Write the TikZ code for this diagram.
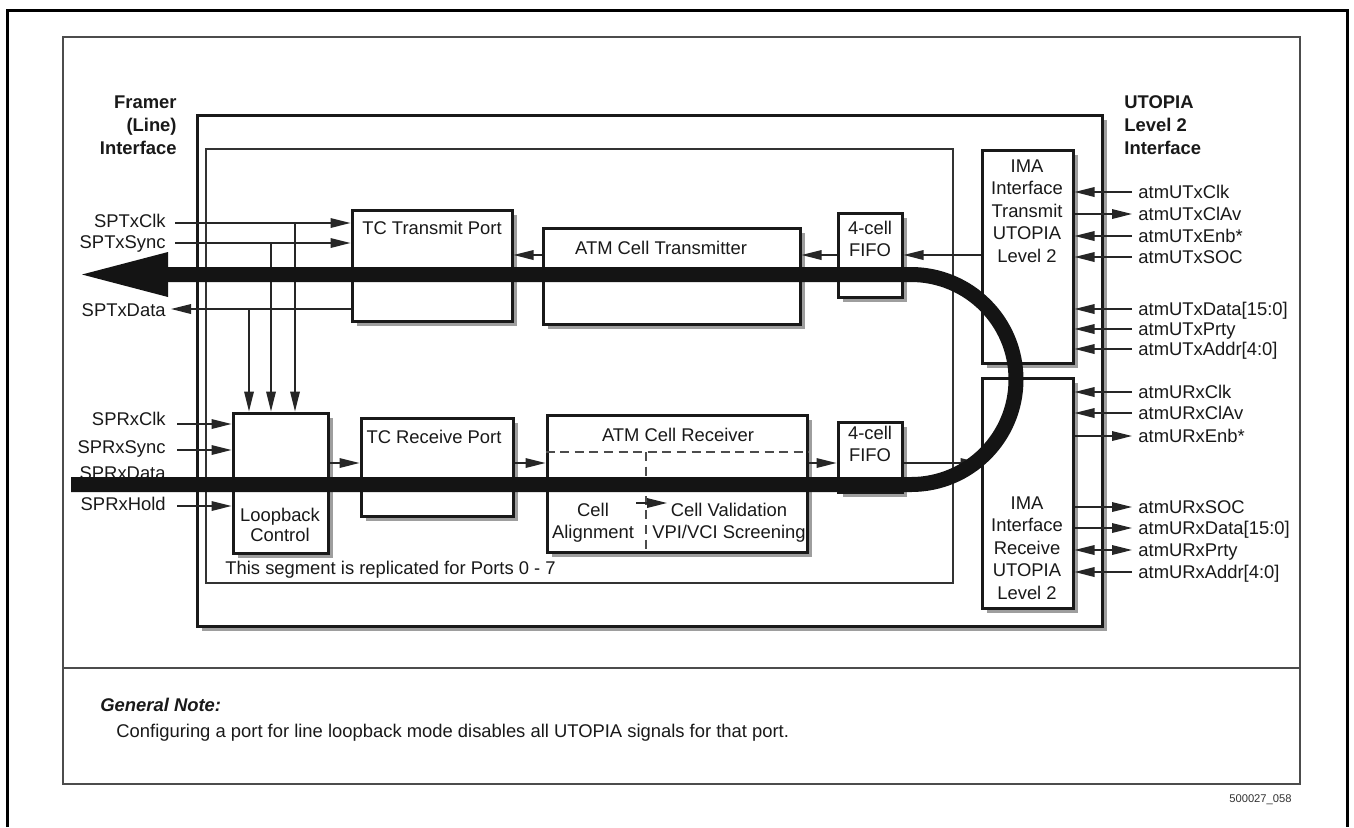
\documentclass[tikz,border=0pt]{standalone}
\usepackage{fontspec}
\setmainfont{Liberation Sans}
\usetikzlibrary{arrows.meta,shadows,fit}

\begin{document}
\begin{tikzpicture}[x=0.5pt,y=-0.5pt,
  font=\fontsize{9.2}{11.2}\selectfont,
  every node/.style={inner sep=0pt},
  box/.style={draw=black!90, line width=1.5pt, fill=white, inner sep=0pt, outer sep=0.75pt,
    drop shadow={shadow xshift=2.6pt, shadow yshift=-2.6pt, fill=black!38, opacity=1}},
  txt/.style={text=black!90, text height=6.6pt, text depth=0pt},
  mtxt/.style={text=black!90, align=center},
  lbl/.style={txt, anchor=east},
  rlbl/.style={txt, anchor=west},
  head/.style={font=\fontsize{9.2}{11.5}\selectfont\bfseries, text=black!90},
  tip/.style={Triangle[length=10pt,width=4.8pt]},
  sig/.style={line width=0.7pt, draw=black!85, -{Triangle[length=10pt,width=4.8pt]}},
  sigb/.style={line width=0.7pt, draw=black!85, {Triangle[length=10pt,width=4.8pt]}-{Triangle[length=10pt,width=4.8pt]}},
  divline/.style={line width=0.7pt, draw=black!70, dash pattern=on 4.5pt off 2.8pt},
  bar/.style={line width=7.5pt, draw=black!92},
]
% page and frames
\fill[white] (0,0) rectangle (1354,827);
\useasboundingbox (0,0) rectangle (1354,827);
\draw[line width=1.5pt] (7,827) -- (7,10) -- (1347,10) -- (1347,827);
\draw[line width=1pt, draw=black!70] (63,37) rectangle (1300,784);
\draw[line width=1pt, draw=black!70] (63,668) -- (1300,668);

% device outline and replicated port segment
\node[box, fit={(197,115) (1102,626)}] (chip) {};
\node[draw=black!80, line width=0.6pt, inner sep=0pt, fit={(206,149) (953,583)}] (seg) {};
\node[txt, anchor=west] (segnote) at (225,568) {This segment is replicated for Ports 0 - 7};

% interface headings
\node[head, align=right, anchor=east] (framer) at (177,125) {Framer\\(Line)\\Interface};
\node[head, align=left, anchor=west] (utopia) at (1124,125) {UTOPIA\\Level 2\\Interface};

% transmit path blocks
\node[box, fit={(352,210) (512,321)}] (tctx) {};
\node[txt] (tctx-t) at (432,228) {TC Transmit Port};
\node[box, fit={(543,228) (800,324)}] (atmtx) {};
\node[txt] (atmtx-t) at (661,248) {ATM Cell Transmitter};
\node[box, fit={(838,213) (902,297)}] (fifotx) {};
\node[mtxt] (fifotx-t) at (870,239) {4-cell\\FIFO};
\node[box, fit={(982,150) (1073,363)}] (imatx) {};
\node[mtxt] (imatx-t) at (1027,211) {IMA\\Interface\\Transmit\\UTOPIA\\Level 2};

% receive path blocks
\node[box, fit={(233,413) (328,553)}] (loop) {};
\node[mtxt, font=\fontsize{9.2}{10.4}\selectfont] (loop-t) at (280,525) {Loopback\\Control};
\node[box, fit={(361,418) (513,516)}] (tcrx) {};
\node[txt] (tcrx-t) at (434,437) {TC Receive Port};
\node[box, fit={(547,415) (807,552)}] (atmrx) {};
\node[txt] (atmrx-t) at (678,435) {ATM Cell Receiver};
\node[mtxt] (align-t) at (593,523) {Cell\\Alignment};
\node[mtxt] (valid-t) at (729,523) {Cell Validation\\VPI/VCI Screening};
\node[box, fit={(838,422) (902,492)}] (fiforx) {};
\node[mtxt] (fiforx-t) at (870,444) {4-cell\\FIFO};
\node[box, fit={(982,378) (1073,608)}] (imarx) {};
\node[mtxt] (imarx-t) at (1027,548) {IMA\\Interface\\Receive\\UTOPIA\\Level 2};

% sub-blocks of the cell receiver
\draw[divline] (atmrx.west |- 0,452) -- (atmrx.east |- 0,452);
\draw[divline] (646,452) -- (atmrx.south -| 646,0);
\coordinate (ca-o) at (636,503);
\coordinate (cv-i) at (667,503);
\draw[sig] (ca-o) -- (cv-i);

% internal data flow
\draw[sig] (atmtx.west |- 0,255) -- (tctx.east |- 0,255);
\draw[sig] (fifotx.west |- 0,255) -- (atmtx.east |- 0,255);
\draw[sig] (imatx.west |- 0,255) -- (fifotx.east |- 0,255);
\draw[sig] (loop.east |- 0,463) -- (tcrx.west |- 0,463);
\draw[sig] (tcrx.east |- 0,463) -- (atmrx.west |- 0,463);
\draw[sig] (atmrx.east |- 0,463) -- (fiforx.west |- 0,463);
\draw[sig] (fiforx.east |- 0,463) -- (imarx.west |- 0,463);

% framer side signals
\node[lbl] (sptxclk) at (166,221) {SPTxClk};
\node[lbl] (sptxsync) at (166,242) {SPTxSync};
\node[lbl] (sptxdata) at (166,310) {SPTxData};
\node[lbl] (sprxclk) at (166,419) {SPRxClk};
\node[lbl] (sprxsync) at (166,447) {SPRxSync};
\node[lbl] (sprxdata) at (166,473) {SPRxData};
\node[lbl] (sprxhold) at (166,504) {SPRxHold};
\coordinate (sptxclk-o) at (175,223);
\coordinate (sptxsync-o) at (175,243);
\coordinate (sptxdata-i) at (171,309);
\coordinate (sprxclk-o) at (177,424);
\coordinate (sprxsync-o) at (177,450);
\coordinate (sprxhold-o) at (177,506);
\draw[sig] (sptxclk-o) -- (sptxclk-o -| tctx.west);
\draw[sig] (sptxsync-o) -- (sptxsync-o -| tctx.west);
\draw[sig] (sptxdata-i -| tctx.west) -- (sptxdata-i);
\draw[sig] (sprxclk-o) -- (sprxclk-o -| loop.west);
\draw[sig] (sprxsync-o) -- (sprxsync-o -| loop.west);
\draw[sig] (sprxhold-o) -- (sprxhold-o -| loop.west);
% taps into the loopback control
\coordinate (tap-clk) at (295,223);
\coordinate (tap-sync) at (271,243);
\coordinate (tap-data) at (249,309);
\draw[sig] (tap-clk) -- (tap-clk |- loop.north);
\draw[sig] (tap-sync) -- (tap-sync |- loop.north);
\draw[sig] (tap-data) -- (tap-data |- loop.north);

% UTOPIA transmit side signals
\node[rlbl] (utxclk) at (1138,192) {atmUTxClk};
\node[rlbl] (utxclav) at (1138,214) {atmUTxClAv};
\node[rlbl] (utxenb) at (1138,236) {atmUTxEnb*};
\node[rlbl] (utxsoc) at (1138,257) {atmUTxSOC};
\node[rlbl] (utxdata) at (1138,309) {atmUTxData[15:0]};
\node[rlbl] (utxprty) at (1138,329) {atmUTxPrty};
\node[rlbl] (utxaddr) at (1138,349) {atmUTxAddr[4:0]};
\draw[sig] ([xshift=-3pt]utxclk.west) -- (utxclk.west -| imatx.east);
\draw[sig] (utxclav.west -| imatx.east) -- ([xshift=-3pt]utxclav.west);
\draw[sig] ([xshift=-3pt]utxenb.west) -- (utxenb.west -| imatx.east);
\draw[sig] ([xshift=-3pt]utxsoc.west) -- (utxsoc.west -| imatx.east);
\draw[sig] ([xshift=-3pt]utxdata.west) -- (utxdata.west -| imatx.east);
\draw[sig] ([xshift=-3pt]utxprty.west) -- (utxprty.west -| imatx.east);
\draw[sig] ([xshift=-3pt]utxaddr.west) -- (utxaddr.west -| imatx.east);

% UTOPIA receive side signals
\node[rlbl] (urxclk) at (1138,392) {atmURxClk};
\node[rlbl] (urxclav) at (1138,413) {atmURxClAv};
\node[rlbl] (urxenb) at (1138,436) {atmURxEnb*};
\node[rlbl] (urxsoc) at (1138,507) {atmURxSOC};
\node[rlbl] (urxdata) at (1138,528) {atmURxData[15:0]};
\node[rlbl] (urxprty) at (1138,550) {atmURxPrty};
\node[rlbl] (urxaddr) at (1138,572) {atmURxAddr[4:0]};
\draw[sig] ([xshift=-3pt]urxclk.west) -- (urxclk.west -| imarx.east);
\draw[sig] ([xshift=-3pt]urxclav.west) -- (urxclav.west -| imarx.east);
\draw[sig] (urxenb.west -| imarx.east) -- ([xshift=-3pt]urxenb.west);
\draw[sig] (urxsoc.west -| imarx.east) -- ([xshift=-3pt]urxsoc.west);
\draw[sig] (urxdata.west -| imarx.east) -- ([xshift=-3pt]urxdata.west);
\draw[sigb] (urxprty.west -| imarx.east) -- ([xshift=-3pt]urxprty.west);
\draw[sig] ([xshift=-3pt]urxaddr.west) -- (urxaddr.west -| imarx.east);

% line loopback data path
\coordinate (lb-in) at (71,484.5);
\coordinate (lb-turn) at (911,484.5);
\coordinate (lb-neck) at (168,274.5);
\coordinate (lb-tip) at (82,274.5);
\draw[bar] (lb-in) -- (lb-turn) arc[start angle=-90, end angle=90, radius=52.5pt] -- (lb-neck);
\fill[black!92] (lb-neck |- 0,252) -- (lb-tip) -- (lb-neck |- 0,297) -- cycle;

% general note
\node[anchor=west, font=\fontsize{9.2}{11.2}\selectfont\bfseries\itshape, text=black!90] (gnote) at (100,705) {General Note:};
\node[anchor=west, txt] (gnote-t) at (116,731) {Configuring a port for line loopback mode disables all UTOPIA signals for that port.};
\node[anchor=east, font=\fontsize{5.6}{6.5}\selectfont, text=black!80] (figid) at (1292,800) {500027\_058};
\end{tikzpicture}
\end{document}
